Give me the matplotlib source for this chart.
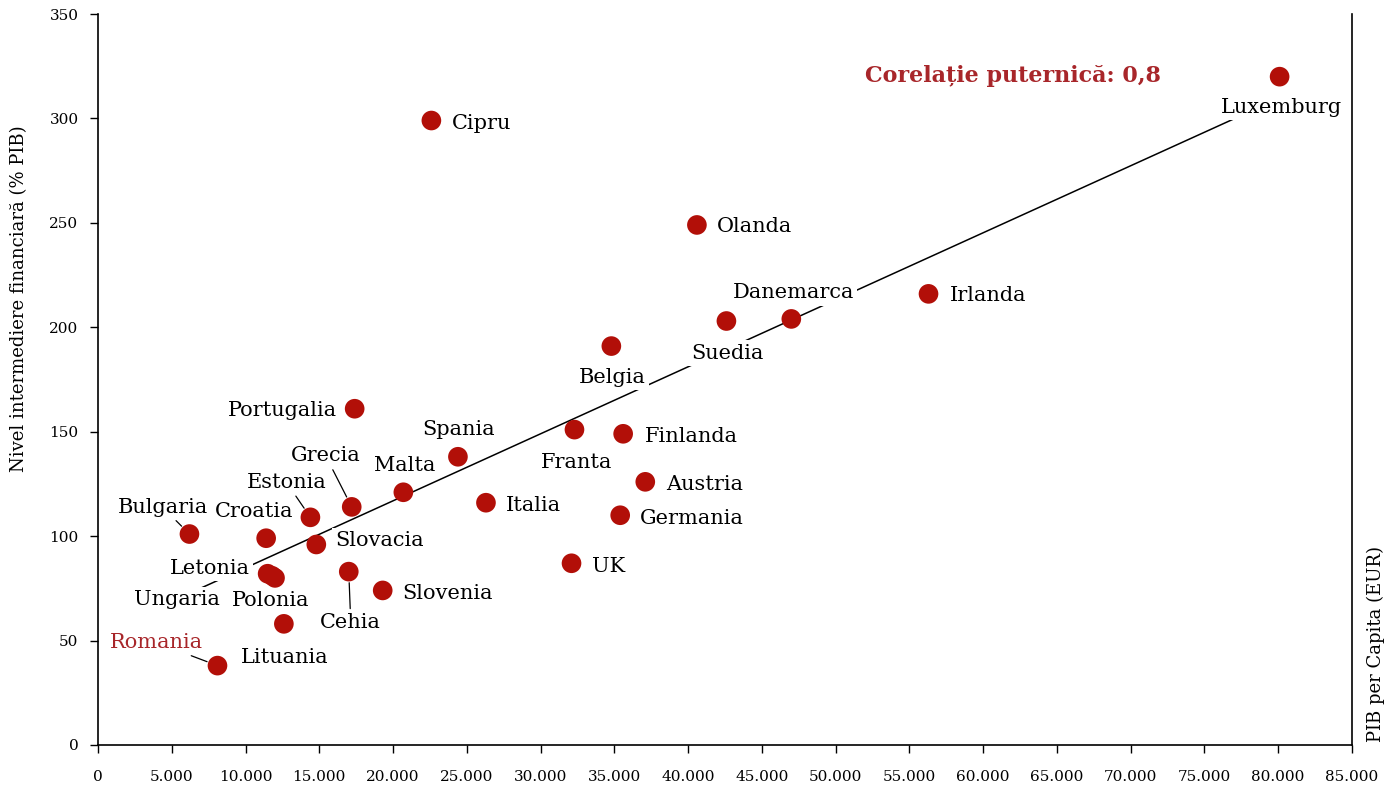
import numpy as np
import matplotlib
matplotlib.use('Agg')
import matplotlib.pyplot as plt
from matplotlib.ticker import FuncFormatter

# tari, PIB per capita (EUR) si nivel intermediere financiara (% PIB)
countries = ['Luxemburg', 'Cipru', 'Olanda', 'Irlanda', 'Danemarca', 'Suedia', 'Belgia',
             'Portugalia', 'Franta', 'Finlanda', 'Spania', 'Austria', 'Malta', 'Italia',
             'Grecia', 'Germania', 'Estonia', 'Bulgaria', 'Croatia', 'Slovacia', 'UK',
             'Letonia', 'Ungaria', 'Polonia', 'Cehia', 'Slovenia', 'Lituania', 'Romania']
gdp_pc = [80100, 22600, 40600, 56300, 47000, 42600, 34800,
          17400, 32300, 35600, 24400, 37100, 20700, 26300,
          17200, 35400, 14400, 6200, 11400, 14800, 32100,
          11500, 11800, 12000, 17000, 19300, 12600, 8100]
fin_int = [320, 299, 249, 216, 204, 203, 191,
           161, 151, 149, 138, 126, 121, 116,
           114, 110, 109, 101, 99, 96, 87,
           82, 81, 80, 83, 74, 58, 38]

# pozitia etichetelor fata de punct (pixeli)
label_pos = {
    'Luxemburg': (2, -31), 'Cipru': (50, -3), 'Olanda': (58, -2), 'Irlanda': (60, -2),
    'Danemarca': (2, 26), 'Suedia': (1, -32), 'Belgia': (1, -31), 'Portugalia': (-72, -2),
    'Franta': (2, -33), 'Finlanda': (68, -3), 'Spania': (1, 27), 'Austria': (59, -3),
    'Malta': (1, 27), 'Italia': (47, -3), 'Grecia': (-26, 51), 'Germania': (72, -3),
    'Estonia': (-24, 35), 'Bulgaria': (-27, 27), 'Croatia': (-12, 27), 'Slovacia': (63, 4),
    'UK': (37, -3), 'Letonia': (-58, 5), 'Ungaria': (-95, -24), 'Polonia': (-4, -23),
    'Cehia': (2, -51), 'Slovenia': (65, -3), 'Lituania': (1, -34), 'Romania': (-61, 23),
}
leaders = ['Grecia', 'Estonia', 'Bulgaria', 'Cehia', 'Romania']

dot_color = '#b20f08'
red_text = '#a8262a'
plt.rcParams['font.family'] = ['DejaVu Serif']

fig = plt.figure(figsize=(13.84, 7.87), dpi=100)
ax = fig.add_axes([0.0708, 0.0534, 0.906, 0.9288])

# linie de trend (regresie liniara)
coef = np.polyfit(gdp_pc, fin_int, 1)
tx = np.array([min(gdp_pc), max(gdp_pc)])
ax.plot(tx, np.polyval(coef, tx), color='black', lw=1.1, zorder=2)

ax.scatter(gdp_pc, fin_int, s=200, color=dot_color, edgecolors='none', zorder=3)

for name, x, y in zip(countries, gdp_pc, fin_int):
    dx, dy = label_pos[name]
    col = red_text if name == 'Romania' else 'black'
    arrow = None
    if name in leaders:
        arrow = dict(arrowstyle='-', color='black', lw=0.9, shrinkA=1, shrinkB=8)
    ax.annotate(name, (x, y), xytext=(dx, dy), textcoords='offset pixels',
                ha='center', va='center', fontsize=15, color=col, zorder=4,
                bbox=dict(boxstyle='square,pad=0.15', fc='white', ec='none'),
                arrowprops=arrow)

ax.text(0.730, 0.915, 'Corelație puternică: 0,8', transform=ax.transAxes,
        ha='center', va='center', fontsize=16, fontweight='bold', color=red_text)

ax.set_xlim(0, 85000)
ax.set_ylim(0, 350)
ax.set_xticks(np.arange(0, 85001, 5000))
ax.set_yticks(np.arange(0, 351, 50))
ax.xaxis.set_major_formatter(FuncFormatter(lambda v, p: f'{int(v):,}'.replace(',', '.')))
ax.tick_params(direction='out', length=6, width=1, labelsize=11, pad=12)
ax.tick_params(axis='y', pad=8)
ax.spines['top'].set_visible(False)
for s in ['left', 'bottom', 'right']:
    ax.spines[s].set_linewidth(1.2)

ax.set_ylabel('Nivel intermediere financiară (% PIB)', fontsize=13)
ax.yaxis.set_label_coords(-0.056, 0.61)
fig.text(0.9942, 0.057, 'PIB per Capita (EUR)', rotation=90, ha='center', va='bottom', fontsize=13)

fig.savefig('out.png', dpi=100)
